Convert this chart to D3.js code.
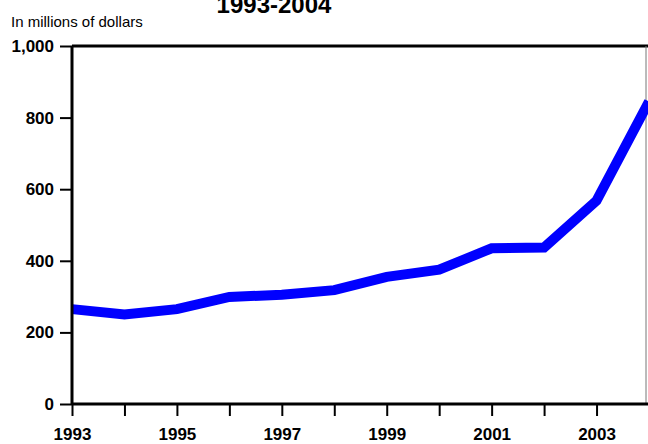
<!DOCTYPE html>
<html>
<head>
<meta charset="utf-8">
<script src="https://cdn.jsdelivr.net/npm/d3@7"></script>
<style>
  body { margin: 0; background: #fff; }
  text { font-family: Arial, "Liberation Sans", sans-serif; }
</style>
</head>
<body>
<script>
var years = [1993, 1994, 1995, 1996, 1997, 1998, 1999, 2000, 2001, 2002, 2003, 2004];
var values = [265, 250, 265, 299, 305, 318, 355, 375, 435, 437, 568, 845];
var yTicks = [0, 200, 400, 600, 800, 1000];
var xTicks = [1993, 1994, 1995, 1996, 1997, 1998, 1999, 2000, 2001, 2002, 2003, 2004];
var xLabels = [1993, 1995, 1997, 1999, 2001, 2003];

var w = 648, h = 444;
var svg = d3.select("body").append("svg").attr("width", w).attr("height", h);

var xScale = d3.scaleLinear().domain([1993, 2004]).range([72, 649]);
var yScale = d3.scaleLinear().domain([0, 1000]).range([404, 46]);

// frame: top and right
svg.append("line").attr("x1", 72).attr("x2", 648).attr("y1", 46).attr("y2", 46)
  .attr("stroke", "#000").attr("stroke-width", 3);
svg.append("line").attr("x1", 646).attr("x2", 646).attr("y1", 46).attr("y2", 404)
  .attr("stroke", "#777").attr("stroke-width", 1);

// data line
var line = d3.line().x(function (d, i) { return xScale(years[i]); })
  .y(function (d) { return yScale(d); });
svg.append("path").datum(values).attr("d", line)
  .attr("fill", "none").attr("stroke", "#0000ff").attr("stroke-width", 10)
  .attr("stroke-linejoin", "miter");

// y axis
var yAxis = d3.axisLeft(yScale).tickValues(yTicks).tickSize(12).tickPadding(6)
  .tickFormat(d3.format(","));
var gy = svg.append("g").attr("transform", "translate(72,0)").call(yAxis);
gy.select(".domain").attr("stroke-width", 3).attr("d", "M0,46V404");
gy.selectAll(".tick line").attr("stroke-width", 2);
gy.selectAll(".tick text").style("font-size", "17px").style("font-weight", "bold")
  .attr("fill", "#000");

// x axis
var xAxis = d3.axisBottom(xScale).tickValues(xTicks).tickSize(12).tickPadding(12)
  .tickFormat(function (d) { return xLabels.indexOf(d) >= 0 ? d : ""; });
var gx = svg.append("g").attr("transform", "translate(0,404)").call(xAxis);
gx.select(".domain").attr("stroke-width", 3).attr("d", "M72,0H648");
gx.selectAll(".tick line").attr("stroke-width", 2);
gx.selectAll(".tick text").style("font-size", "17px").style("font-weight", "bold")
  .attr("fill", "#000");

// titles
svg.append("text").attr("x", 274).attr("y", 13).attr("text-anchor", "middle")
  .style("font-size", "24px").style("font-weight", "bold").text("1993-2004");
svg.append("text").attr("x", 11).attr("y", 27)
  .style("font-size", "15px").text("In millions of dollars");
</script>
</body>
</html>
